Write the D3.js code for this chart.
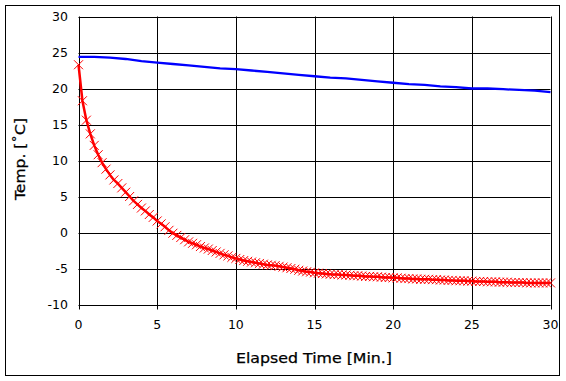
<!DOCTYPE html>
<html>
<head>
<meta charset="utf-8">
<script src="https://cdn.jsdelivr.net/npm/d3@7"></script>
<style>
  html, body { margin: 0; padding: 0; background: #fff; }
  svg { display: block; }
  text { font-family: "DejaVu Sans", Verdana, sans-serif; fill: #000; }
</style>
</head>
<body>
<svg id="chart" width="566" height="381"></svg>
<script>
// ---- data ----
const xTicks = [0, 5, 10, 15, 20, 25, 30];
const yTicks = [-10, -5, 0, 5, 10, 15, 20, 25, 30];
const xTitle = "Elapsed Time [Min.]";
const yTitle = "Temp. [˚C]";

// blue series: one reading per minute (0..30)
const blueMinutes = [0,1,2,3,4,5,6,7,8,9,10,11,12,13,14,15,16,17,18,19,20,21,22,23,24,25,26,27,28,29,30];
const blueTemps = [24.4,24.4,24.3,24.1,23.8,23.6,23.4,23.2,23.0,22.8,
                   22.7,22.5,22.3,22.1,21.9,21.7,21.5,21.4,21.2,21.0,
                   20.8,20.6,20.5,20.3,20.2,20.0,20.0,19.9,19.8,19.7,19.5];

// red series: one reading every 0.25 minute (0..30)
const redStepMin = 0.25;
const redTemps = [
  23.3, 18.3, 15.6, 13.7, 12.1, 10.8, 9.7, 8.8,
  8.0, 7.3, 6.8, 6.2, 5.6, 5.0, 4.4, 3.9,
  3.4, 3.0, 2.5, 2.1, 1.6, 1.2, 0.8, 0.3,
  -0.1, -0.4, -0.7, -1.0, -1.3, -1.5, -1.7, -1.95,
  -2.15, -2.3, -2.5, -2.7, -2.9, -3.1, -3.25, -3.45,
  -3.6, -3.75, -3.9, -4.0, -4.1, -4.2, -4.3, -4.4,
  -4.5, -4.55, -4.6, -4.7, -4.8, -4.9, -5.0, -5.1,
  -5.25, -5.35, -5.45, -5.5, -5.6, -5.65, -5.7, -5.75,
  -5.8, -5.85, -5.85, -5.9, -5.9, -5.95, -6.0, -6.0,
  -6.05, -6.1, -6.1, -6.15, -6.15, -6.2, -6.25, -6.25,
  -6.3, -6.3, -6.35, -6.4, -6.4, -6.45, -6.45, -6.5,
  -6.5, -6.5, -6.55, -6.55, -6.6, -6.6, -6.65, -6.65,
  -6.7, -6.7, -6.7, -6.75, -6.75, -6.8, -6.8, -6.8,
  -6.85, -6.85, -6.85, -6.9, -6.9, -6.9, -6.95, -6.95,
  -6.95, -6.95, -7.0, -7.0, -7.0, -7.0, -7.0, -7.0,
  -7.0
];

// ---- drawing ----
const svg = d3.select("#chart");
const x = d3.scaleLinear().domain([0, 30]).range([78.5, 550.5]);
const y = d3.scaleLinear().domain([-10, 30]).range([304.5, 16.5]);

// outer frame
svg.append("rect").attr("x", 5.5).attr("y", 5.5).attr("width", 554).attr("height", 370)
  .attr("fill", "#fff").attr("stroke", "#000").attr("stroke-width", 1);

// horizontal grid
svg.append("g").selectAll("line").data(yTicks).join("line")
  .attr("x1", x(0)).attr("x2", x(30))
  .attr("y1", d => Math.round(y(d)) + 0.5).attr("y2", d => Math.round(y(d)) + 0.5)
  .attr("stroke", "#000").attr("stroke-width", 1);

// vertical grid (with ticks below the axis)
svg.append("g").selectAll("line").data(xTicks).join("line")
  .attr("x1", d => Math.round(x(d)) + 0.5).attr("x2", d => Math.round(x(d)) + 0.5)
  .attr("y1", y(30)).attr("y2", y(-10) + 5)
  .attr("stroke", "#000").attr("stroke-width", 1);

// y tick labels
svg.append("g").selectAll("text").data(yTicks).join("text")
  .attr("x", 68).attr("y", d => y(d)).attr("dy", "0.36em")
  .attr("text-anchor", "end").attr("font-size", 12.5)
  .text(d => d);

// x tick labels
svg.append("g").selectAll("text").data(xTicks).join("text")
  .attr("x", d => x(d)).attr("y", 324).attr("dy", "0.36em")
  .attr("text-anchor", "middle").attr("font-size", 12.5)
  .text(d => d);

// axis titles
svg.append("text").attr("x", 314).attr("y", 358).attr("dy", "0.36em")
  .attr("text-anchor", "middle").attr("font-size", 14.5)
  .attr("stroke", "#000").attr("stroke-width", 0.25)
  .attr("textLength", 156).attr("lengthAdjust", "spacingAndGlyphs").text(xTitle);
svg.append("text").attr("transform", "translate(20,159) rotate(-90)").attr("dy", "0.36em")
  .attr("text-anchor", "middle").attr("font-size", 14.5)
  .attr("stroke", "#000").attr("stroke-width", 0.25)
  .attr("textLength", 82).attr("lengthAdjust", "spacingAndGlyphs").text(yTitle);

// blue line
const blueData = blueMinutes.map((m, i) => [m, blueTemps[i]]);
svg.append("path").datum(blueData)
  .attr("fill", "none").attr("stroke", "#0000ff").attr("stroke-width", 2.3)
  .attr("d", d3.line().x(d => x(d[0])).y(d => y(d[1])));

// red line + x markers
const redData = redTemps.map((v, i) => [i * redStepMin, v]);
svg.append("path").datum(redData)
  .attr("fill", "none").attr("stroke", "#ff0000").attr("stroke-width", 2.5)
  .attr("stroke-linejoin", "round")
  .attr("d", d3.line().x(d => x(d[0])).y(d => y(d[1])));

const s = 4.5;
svg.append("g").selectAll("path").data(redData).join("path")
  .attr("fill", "none").attr("stroke", "#ff0000").attr("stroke-width", 1)
  .attr("d", d => {
    const cx = x(d[0]), cy = y(d[1]);
    return `M${cx - s},${cy - s}L${cx + s},${cy + s}M${cx - s},${cy + s}L${cx + s},${cy - s}`;
  });
</script>
</body>
</html>
